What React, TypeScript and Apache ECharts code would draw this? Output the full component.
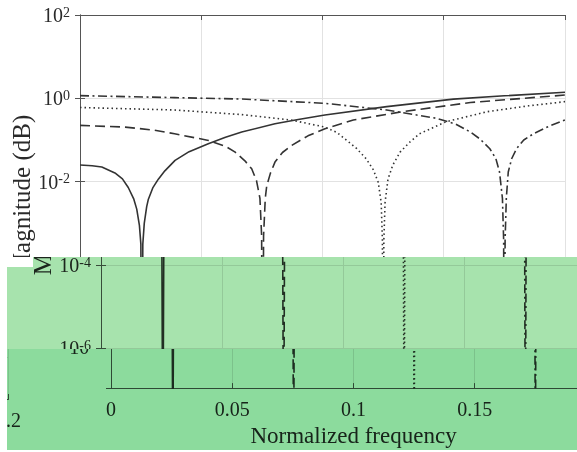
import React, { useEffect, useRef } from "react";
import * as echarts from "echarts";

// ---- data ----
const xTicks = [0, 0.05, 0.1, 0.15, 0.2];
const xTickLabels = ["0", "0.05", "0.1", "0.15", "0.2"];
const yTickExps = [-6, -4, -2, 0, 2];
const yLabel = "Magnitude (dB)";
const xLabel = "Normalized frequency";

const solidFreq = [0, 0.005, 0.009, 0.0144, 0.0175, 0.0199, 0.0222, 0.0234, 0.0245, 0.0251, 0.0255, 0.0259, 0.0265, 0.0275, 0.0282, 0.03, 0.0323, 0.035, 0.0392, 0.045, 0.0529, 0.06, 0.0667, 0.0804, 0.09, 0.101, 0.1265, 0.154, 0.175, 0.2];
const solidMag = [0.0251, 0.024, 0.0224, 0.0162, 0.0117, 0.00724, 0.0038, 0.00219, 0.000891, 0.000316, 1e-9, 0.000316, 0.001, 0.00251, 0.0038, 0.00708, 0.0115, 0.0182, 0.0324, 0.0525, 0.0813, 0.117, 0.155, 0.245, 0.309, 0.398, 0.631, 0.955, 1.15, 1.4];

const dashedFreq = [0, 0.0186, 0.03, 0.039, 0.053, 0.06, 0.064, 0.068, 0.0708, 0.0728, 0.0742, 0.0749, 0.0753, 0.0757, 0.0764, 0.077, 0.0785, 0.0804, 0.0835, 0.0873, 0.094, 0.101, 0.1127, 0.133, 0.161, 0.2];
const dashedMag = [0.224, 0.204, 0.174, 0.141, 0.0977, 0.0708, 0.0513, 0.0316, 0.0204, 0.0105, 0.00398, 0.000501, 1e-9, 0.000501, 0.00398, 0.00794, 0.0158, 0.0295, 0.0501, 0.0741, 0.126, 0.186, 0.302, 0.479, 0.794, 1.2];

const dottedFreq = [0, 0.039, 0.0667, 0.087, 0.101, 0.106, 0.11, 0.114, 0.118, 0.121, 0.123, 0.1242, 0.1247, 0.125, 0.1253, 0.1258, 0.127, 0.129, 0.132, 0.136, 0.14, 0.151, 0.168, 0.185, 0.2];
const dottedMag = [0.603, 0.525, 0.407, 0.302, 0.204, 0.151, 0.0977, 0.0631, 0.0355, 0.0191, 0.00955, 0.00316, 0.000398, 1e-9, 0.000398, 0.00316, 0.0115, 0.0251, 0.0513, 0.0891, 0.141, 0.275, 0.479, 0.661, 0.832];

const dashDotFreq = [0, 0.039, 0.0667, 0.101, 0.1265, 0.147, 0.155, 0.161, 0.165, 0.169, 0.1715, 0.173, 0.1742, 0.1747, 0.175, 0.1753, 0.1758, 0.1766, 0.178, 0.18, 0.183, 0.187, 0.193, 0.2];
const dashDotMag = [1.16, 1.04, 0.962, 0.759, 0.525, 0.331, 0.24, 0.155, 0.105, 0.0617, 0.0355, 0.017, 0.00398, 0.000398, 1e-9, 0.000398, 0.00398, 0.017, 0.0355, 0.0617, 0.1, 0.141, 0.209, 0.302];

const FONT = '"Liberation Serif", "Times New Roman", serif';
const TXT = "#2a2a2a";
const YLABEL_FONT = '25px "Liberation Serif"';
const YLABEL_X = 21;
const YLABEL_Y = 195;

function pairs(f: number[], m: number[]) {
  return f.map((x, i) => [x, m[i]]);
}

function measure(text: string, font: string): number {
  const ctx = document.createElement("canvas").getContext("2d");
  if (!ctx) return text.length * 11;
  ctx.font = font;
  return ctx.measureText(text).width;
}

type LayerCfg = {
  yExps: number[]; // which y tick labels this layer draws
  xIdx: number[]; // which x tick labels this layer draws
  xName: boolean;
  yName: "full" | "M" | "none";
};

function buildOption(cfg: LayerCfg): any {
  const axisLine = { show: true, lineStyle: { color: "#555", width: 1 } };
  const tick = { show: true, inside: true, length: 5, lineStyle: { color: "#555", width: 1 } };
  const lineColor = "#333";
  const mk = (name: string, f: number[], m: number[], type: any) => ({
    name,
    type: "line",
    data: pairs(f, m),
    showSymbol: false,
    symbol: "none",
    clip: true,
    smooth: false,
    lineStyle: { color: lineColor, width: 1.6, type },
    z: 3,
  });

  const yFormatter = (v: number) => {
    const e = Math.log10(v);
    const r = Math.round(e);
    if (Math.abs(e - r) > 1e-6) return "";
    if (yTickExps.indexOf(r) < 0 || cfg.yExps.indexOf(r) < 0) return "";
    return "{b|10}{s|" + r + "}";
  };

  const graphic: any[] = [];
  if (cfg.yName === "full") {
    graphic.push({
      type: "text",
      x: YLABEL_X,
      y: YLABEL_Y,
      rotation: Math.PI / 2,
      style: { text: yLabel, font: YLABEL_FONT, fill: TXT, align: "center", verticalAlign: "middle" },
    });
  } else if (cfg.yName === "M") {
    const W = measure(yLabel, YLABEL_FONT);
    graphic.push({
      type: "text",
      x: YLABEL_X,
      y: YLABEL_Y + W / 2,
      rotation: Math.PI / 2,
      style: { text: yLabel.charAt(0), font: YLABEL_FONT, fill: TXT, align: "left", verticalAlign: "middle" },
    });
  }

  return {
    animation: false,
    backgroundColor: "transparent",
    grid: { left: 80, right: 12, top: 15, bottom: 62, containLabel: false },
    xAxis: [
      {
        type: "value",
        min: 0,
        max: 0.2,
        interval: 0.05,
        position: "bottom",
        axisLine,
        axisTick: tick,
        axisLabel: {
          fontFamily: FONT,
          fontSize: 20,
          color: TXT,
          margin: 11,
          formatter: (v: number) => {
            let best = -1;
            xTicks.forEach((t, i) => {
              if (Math.abs(t - v) < 1e-6) best = i;
            });
            if (best < 0 || cfg.xIdx.indexOf(best) < 0) return "";
            return xTickLabels[best];
          },
        },
        splitLine: { show: true, lineStyle: { color: "#e2e2e2", width: 1 } },
        name: cfg.xName ? xLabel : "",
        nameLocation: "middle",
        nameGap: 34,
        nameTextStyle: { fontFamily: FONT, fontSize: 23, color: TXT },
      },
      {
        type: "value",
        min: 0,
        max: 0.2,
        interval: 0.05,
        position: "top",
        axisLine,
        axisTick: tick,
        axisLabel: { show: false },
        splitLine: { show: false },
      },
    ],
    yAxis: [
      {
        type: "log",
        logBase: 100,
        min: 1e-7,
        max: 100,
        position: "left",
        axisLine,
        axisTick: tick,
        axisLabel: {
          margin: 10,
          formatter: yFormatter,
          rich: {
            b: { fontFamily: FONT, fontSize: 20, color: TXT, lineHeight: 20 },
            s: { fontFamily: FONT, fontSize: 14, color: TXT, verticalAlign: "top", lineHeight: 14 },
          },
        },
        splitLine: { show: true, lineStyle: { color: "#e2e2e2", width: 1 } },
      },
      {
        type: "log",
        logBase: 100,
        min: 1e-7,
        max: 100,
        position: "right",
        axisLine,
        axisTick: tick,
        axisLabel: { show: false },
        splitLine: { show: false },
      },
    ],
    graphic,
    series: [
      mk("solid", solidFreq, solidMag, "solid"),
      mk("dashed", dashedFreq, dashedMag, [10, 5]),
      mk("dotted", dottedFreq, dottedMag, [1.5, 3]),
      mk("dashdot", dashDotFreq, dashDotMag, [9, 3.5, 2, 3.5]),
    ],
  };
}

function ChartLayer({ left, top, cfg }: { left: number; top: number; cfg: LayerCfg }) {
  const ref = useRef<HTMLDivElement>(null);
  useEffect(() => {
    if (!ref.current) return;
    const chart = echarts.init(ref.current, undefined, { renderer: "svg" });
    chart.setOption(buildOption(cfg));
    return () => chart.dispose();
  }, []);
  return <div ref={ref} style={{ position: "absolute", left, top, width: 577, height: 452 }} />;
}

type Shift = { dx: number; dy: number; cfg: LayerCfg };

function Band({ x, y, w, h, shifts, tint }: { x: number; y: number; w: number; h: number; shifts: Shift[]; tint: string }) {
  return (
    <div style={{ position: "absolute", left: x, top: y, width: w, height: h, overflow: "hidden", background: "#fff" }}>
      {shifts.map((s, i) => (
        <ChartLayer key={i} left={s.dx - x} top={s.dy - y} cfg={s.cfg} />
      ))}
      {tint ? (
        <div style={{ position: "absolute", left: 0, top: 0, width: w, height: h, background: tint, mixBlendMode: "multiply" }} />
      ) : null}
    </div>
  );
}

const mainCfg: LayerCfg = { yExps: [2, 0, -2], xIdx: [], xName: false, yName: "full" };
const band1Cfg: LayerCfg = { yExps: [-4, -6], xIdx: [], xName: false, yName: "M" };
const patchCfg: LayerCfg = { yExps: [], xIdx: [], xName: false, yName: "none" };
const band2Cfg: LayerCfg = { yExps: [-6], xIdx: [0, 1, 2, 3], xName: true, yName: "none" };
const band2WrapCfg: LayerCfg = { yExps: [], xIdx: [4], xName: false, yName: "none" };

export default function App() {
  return (
    <div style={{ position: "fixed", left: 0, top: 0, width: 577, height: 452, background: "#fff", overflow: "hidden" }}>
      <ChartLayer left={0} top={0} cfg={mainCfg} />
      <Band x={7} y={257} w={570} h={92} shifts={[{ dx: 21, dy: 0, cfg: band1Cfg }]} tint="#a7e3ad" />
      <Band x={7} y={257} w={26} h={10} shifts={[{ dx: 0, dy: 0, cfg: patchCfg }]} tint="" />
      <Band
        x={7}
        y={349}
        w={570}
        h={101}
        shifts={[
          { dx: 31, dy: 0, cfg: band2Cfg },
          { dx: 31 - 584, dy: 9, cfg: band2WrapCfg },
        ]}
        tint="#8cdb9d"
      />
    </div>
  );
}
